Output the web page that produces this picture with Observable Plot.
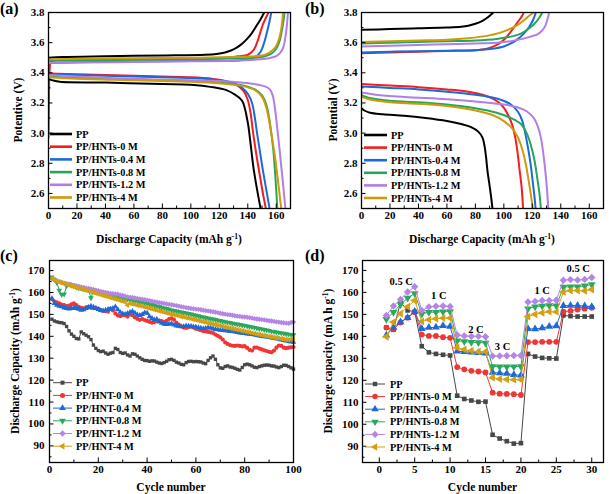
<!DOCTYPE html>
<html><head><meta charset="utf-8">
<script src="https://cdn.jsdelivr.net/npm/d3@7"></script>
<script src="https://cdn.jsdelivr.net/npm/@observablehq/plot@0.6"></script>
<style>
body{margin:0;background:#fff;}
#wrap{position:relative;width:610px;height:494px;overflow:hidden;}
#wrap svg{position:absolute;}
</style></head><body><div id="wrap"></div>
<script>
// ---------- series names & colours ----------
const namesAB = ["PP","PP/HNTs-0 M","PP/HNTs-0.4 M","PP/HNTs-0.8 M","PP/HNTs-1.2 M","PP/HNTs-4 M"];
const namesC = ["PP","PP/HNT-0 M","PP/HNT-0.4 M","PP/HNT-0.8 M","PP/HNT-1.2 M","PP/HNT-4 M"];
const colorsAB = ["#000000","#f51d1d","#1c6ad8","#26a65b","#b07ee6","#cf9a08"];
const colorsCD = ["#474747","#f03535","#1c6ad8","#2aa85c","#b585e6","#d4a010"];

// ---------- panel (a): [capacity, voltage] ----------
const aChargePP = [[0,3.50],[10,3.505],[40,3.51],[80,3.515],[110,3.52],[118,3.525],[124,3.535],[130,3.555],[135,3.585],[139,3.62],[143,3.665],[146,3.71],[149,3.755],[151.5,3.8]];
const aChargeHNT0 = [[0,2.97],[0.3,3.2],[0.8,3.42],[2,3.475],[20,3.485],[60,3.49],[100,3.495],[125,3.50],[133,3.51],[140,3.52],[144,3.55],[146.5,3.6],[148.5,3.66],[151,3.73],[153,3.77],[154.6,3.8]];
const aChargeHNT04 = [[0,3.465],[20,3.47],[60,3.475],[100,3.478],[130,3.48],[140,3.49],[146,3.51],[149,3.54],[151.5,3.6],[153.5,3.67],[155,3.73],[156.5,3.8]];
const aChargeHNT08 = [[0,3.48],[20,3.483],[60,3.487],[100,3.49],[130,3.495],[145,3.50],[152,3.51],[157,3.53],[160,3.56],[162.3,3.61],[163.9,3.68],[165,3.74],[165.8,3.8]];
const aChargeHNT12 = [[0,3.465],[20,3.468],[60,3.472],[100,3.476],[130,3.48],[145,3.487],[155,3.497],[160,3.51],[163,3.535],[165,3.57],[166.3,3.63],[167.3,3.7],[168.2,3.8]];
const aChargeHNT4 = [[0,3.49],[20,3.493],[60,3.497],[100,3.50],[130,3.505],[145,3.51],[152,3.52],[156,3.54],[159.5,3.57],[161.8,3.62],[163.3,3.68],[164.2,3.74],[164.7,3.8]];
const aDisPP = [[0,3.36],[3,3.35],[8,3.34],[40,3.335],[80,3.325],[100,3.32],[115,3.305],[125,3.285],[131,3.255],[136,3.215],[139.8,3.08],[141.7,2.95],[144,2.77],[147,2.6],[149,2.5]];
const aDisHNT0 = [[0,3.395],[20,3.39],[60,3.38],[100,3.37],[115,3.36],[125,3.345],[132,3.32],[137,3.28],[140,3.22],[142,3.13],[143.5,3.02],[145,2.92],[147,2.8],[149,2.69],[151,2.58],[152.7,2.5]];
const aDisHNT04 = [[0,3.39],[20,3.385],[60,3.375],[100,3.365],[120,3.35],[130,3.33],[136,3.30],[140,3.26],[143,3.2],[145,3.1],[146.5,3.0],[148.5,2.88],[150.5,2.76],[152.5,2.65],[154,2.57],[155.3,2.5]];
const aDisHNT08 = [[0,3.375],[20,3.365],[60,3.355],[100,3.345],[120,3.335],[135,3.32],[145,3.29],[150,3.25],[153,3.19],[155,3.1],[156.5,3.0],[158,2.88],[159,2.76],[160,2.62],[160.7,2.5]];
const aDisHNT12 = [[0,3.385],[20,3.375],[60,3.36],[100,3.35],[120,3.345],[135,3.335],[145,3.325],[152,3.31],[155.5,3.29],[157.5,3.25],[159,3.17],[160.5,3.05],[162,2.92],[163.5,2.78],[165,2.64],[166.4,2.5]];
const aDisHNT4 = [[0,3.37],[20,3.36],[60,3.35],[100,3.34],[120,3.33],[135,3.315],[145,3.285],[150,3.24],[153,3.17],[155,3.08],[157,2.97],[159,2.85],[160.5,2.74],[162,2.62],[163.5,2.5]];

// ---------- panel (b) ----------
const bChargePP = [[0,3.685],[20,3.69],[40,3.695],[60,3.70],[70,3.705],[75,3.712],[80,3.725],[85,3.745],[89,3.77],[92.5,3.8]];
const bChargeHNT0 = [[0,3.53],[20,3.535],[40,3.54],[60,3.545],[80,3.55],[88,3.56],[94,3.58],[99,3.61],[103,3.65],[107,3.70],[110,3.74],[113,3.78],[114,3.8]];
const bChargeHNT04 = [[0,3.535],[20,3.54],[40,3.543],[60,3.547],[80,3.55],[92,3.56],[100,3.575],[106,3.60],[110,3.625],[114,3.66],[117.5,3.70],[120.5,3.75],[122.5,3.8]];
const bChargeHNT08 = [[0,3.595],[20,3.60],[40,3.605],[60,3.61],[80,3.615],[95,3.625],[105,3.64],[112,3.66],[117,3.69],[121,3.72],[124.5,3.76],[127,3.8]];
const bChargeHNT12 = [[0,3.575],[20,3.58],[40,3.585],[60,3.59],[80,3.595],[95,3.60],[105,3.61],[113,3.625],[119,3.64],[124.5,3.66],[128.5,3.7],[130.5,3.75],[131.8,3.8]];
const bChargeHNT4 = [[0,3.605],[20,3.61],[40,3.615],[60,3.62],[75,3.63],[88,3.645],[97,3.665],[104,3.69],[110,3.72],[115,3.755],[118,3.78],[121,3.8]];
const bDisPP = [[0,3.165],[2,3.15],[6,3.135],[15,3.125],[30,3.115],[45,3.10],[60,3.08],[70,3.06],[77,3.04],[82,3.01],[85,2.97],[86.5,2.91],[87.5,2.84],[88.5,2.75],[90,2.65],[91,2.58],[92,2.5]];
const bDisHNT0 = [[0,3.325],[20,3.315],[40,3.305],[60,3.29],[75,3.275],[85,3.255],[93,3.225],[99,3.18],[103,3.12],[106,3.05],[108,2.97],[109.5,2.88],[111,2.76],[112.5,2.64],[113.5,2.5]];
const bDisHNT04 = [[0,3.31],[20,3.30],[40,3.29],[60,3.275],[80,3.255],[95,3.23],[105,3.19],[110,3.14],[113,3.08],[115,3.0],[117,2.9],[119,2.78],[120.5,2.66],[121.5,2.58],[122.3,2.5]];
const bDisHNT08 = [[0,3.252],[5,3.235],[20,3.215],[40,3.205],[60,3.19],[80,3.165],[95,3.135],[105,3.10],[112,3.06],[116,3.0],[119,2.92],[121.5,2.82],[123.5,2.7],[125,2.6],[126,2.5]];
const bDisHNT12 = [[0,3.27],[10,3.255],[30,3.24],[60,3.225],[80,3.21],[100,3.19],[110,3.17],[116,3.145],[121,3.10],[124,3.04],[126,2.97],[127.5,2.88],[129,2.76],[130.2,2.64],[131.2,2.5]];
const bDisHNT4 = [[0,3.24],[5,3.225],[20,3.205],[40,3.195],[60,3.18],[80,3.15],[92,3.12],[100,3.08],[106,3.03],[110,2.97],[113,2.89],[115.5,2.79],[117.5,2.68],[119,2.59],[120.3,2.5]];

// ---------- panel (c): capacity per cycle 1..100 ----------
const cPP = [147.8,147,146.6,146.3,146.2,145.8,144.5,142.5,141,140, 139,138.8,142,141.2,140.5,139.8,138.5,136,134.5,133.5,
 133,133.2,132.4,131.8,132.3,132.6,134.5,134,132.6,132.2, 132.4,131.5,131,132,131.8,131,130.2,129.5,129,128.9,
 128.6,128.8,128.7,128.2,127.8,127.6,128,128.6,129.3,129.5, 129,128.2,127.8,127.2,127,128,128.5,128.6,128.4,128.5,
 128.4,128.3,127.8,127.5,129,130.2,131,129.5,127,125.6, 125.4,126.2,126.5,126,125.8,125.4,124.9,124.6,125.8,127,
 127.3,127,126.5,125.9,125.7,126.2,126.5,126.8,126.9,126.8, 126.5,126.4,126,125.7,126.2,126.8,126.7,126.2,125.6,125];
const cHNT0 = [157,156,155.5,155,154.5,154.3,153.8,154,154.6,155, 154.2,153.5,153,152.7,153.2,153.5,153,152.8,153,152.5,
 152,151.6,151.5,151.2,152.6,151.8,150.4,149.5,149.2,149.7, 149.5,149,150,149.6,148.6,148,147.5,147.9,147.4,147,
 146.6,146.2,146.5,147,147.2,146.9,146.5,147,147.9,148.2, 147.6,146.2,145.3,144.5,144,143.8,144.2,144.4,144,143.5,
 143.2,142.8,142.4,142.2,142,141.8,141.5,140.8,140.2,139.5, 138.5,137.2,136.5,136,135.7,135.6,135.8,135.6,135.4,135.5,
 134.7,133.8,133.5,134.8,134.9,134.4,134,133.6,133.3,132.9, 132.7,133.5,134.8,135.8,135.6,134.8,134.6,134.8,135,135.1];
const cHNT04 = [157.2,155,154.2,153.8,153.5,153,152.8,152.5,152.8,153, 152.8,152.4,152,152.2,152.8,153.2,153.8,153.4,152.8,152.3,
 151.8,151.6,152,152.3,152.4,152.8,153.5,152.2,151,150.3, 150.1,150.5,151,151.4,150.6,149.8,149.6,150,150.8,150.6,
 149,148.2,147.6,147.8,146.6,146,145.6,145.4,145.6,145.8, 145.2,144.8,144.6,144.4,144.5,144.8,144.7,144.6,144.4,144.2,
 144,143.8,143.5,143.7,144,143.8,143.5,143.2,143,142.8, 142.7,142.6,142.5,142.3,142.2,142,141.8,141.6,141.5,141.3,
 141.1,141,140.9,140.6,140.4,140.2,140,139.9,139.7,139.5, 139.3,139.1,138.9,138.7,138.4,138.2,137.9,137.7,137.5,137.3];
const cHNT08 = [167,165.8,164.5,161,159,159.2,163,163.8,163.2,162.8, 162.4,162,161.8,161.6,161.4,161.2,157.5,160.6,160.4,160.2,
 159.9,159.7,159.3,159,158.7,158.4,158.2,157.9,157.7,157.4, 157.2,156.9,156.7,156.5,156.2,156,155.8,155.5,155.2,155,
 154.7,154.4,154.1,153.8,153.5,153.2,152.9,152.6,152.3,152, 151.7,151.5,151.3,151,150.8,150.6,150.3,150.1,149.8,149.5,
 149.3,149,148.8,148.5,148.3,148,147.8,147.6,147.3,147.1, 146.8,146.6,146.4,146.2,145.9,145.7,145.5,145.3,145.1,144.9,
 144.6,144.4,144.2,144,143.7,143.5,143.3,143,142.8,142.6, 142.3,142.1,141.9,141.7,141.5,141.3,141.1,140.9,140.8,140.6];
const cHNT12 = [166.2,165.8,165.3,164.9,164.6,164.3,164,163.8,163.5,163.3, 163.1,162.8,162.5,162.3,162,161.8,161.6,161.4,161.1,160.8,
 160.5,160.2,160,159.8,159.6,159.5,159.3,159.2,158.9,158.6, 158.3,158,157.8,157.7,157.5,157.3,157.1,156.9,156.7,156.5,
 156.3,156,155.8,155.6,155.4,155.2,155,154.8,154.6,154.4, 154.2,154,153.8,153.5,153.3,153.1,152.9,152.7,152.6,152.4,
 152.3,152.1,151.9,151.7,151.6,151.4,151.2,151,150.8,150.5, 150.3,150.1,149.9,149.8,149.6,149.4,149.2,149.1,148.9,148.8,
 148.7,148.5,148.3,148.1,147.9,147.8,147.6,147.5,147.3,147.1, 147,146.8,146.6,146.5,146.3,146.2,146,145.9,146.3,146.5];
const cHNT4 = [166.5,165.8,165.2,164.8,164.4,164,163.7,163.3,163,162.7, 162.3,162,161.7,161.3,161,160.7,160.3,160,159.6,159.3,
 159,158.6,158.3,158,157.6,157.3,157,156.7,156.3,156, 155.7,154.2,155,154.8,154.5,154.2,154,153.7,153.4,153.1,
 152.8,152.5,152.2,151.9,151.6,151.3,151,150.7,150.4,150.1, 149.8,149.6,149.3,149,148.8,148.5,148.3,148,147.7,147.5,
 147.2,146.9,146.7,146.4,146.1,145.9,145.6,145.3,145.1,144.8, 144.5,144.3,144,143.8,143.5,143.3,143,142.8,142.5,142.3,
 142,141.8,141.5,141.3,141,140.8,140.6,140.3,140.1,139.9, 139.7,139.5,139.3,139.1,138.9,138.7,138.5,138.4,138.6,138.9];

// ---------- panel (d): capacity per cycle 1..30 ----------
const dPP = [144,143,155.5,151.8,151.2,135.5,132.7,132,131.6,131.3,113,111.5,110.8,110.2,110.3,95.2,93.5,92.3,91.2,91.4,132,130.8,130.2,130,129.9,149.5,149.2,149,149,149];
const dHNT0 = [144,143.2,146.3,148.5,151,140.8,140.2,140.2,139.6,139.3,126,125,124.3,124,123.6,114.4,113.9,113.8,113.7,113.3,137.4,137.4,137.5,137.5,137.5,151.2,151.6,152.2,152.6,153];
const dHNT04 = [140.5,144,146.5,148.5,151.3,143.4,144,144.1,144.8,144.5,133.2,133,132.8,132.5,132.3,123.5,123.3,123.1,122.5,122.3,143.5,143.3,143.8,144.5,144.7,153.9,154,154,153.8,153.5];
const dHNT08 = [147.8,151,154.5,157.4,159.5,150.2,151,151,151.2,151.3,138,137.6,137.3,137.2,137,126.3,126.2,126.2,126.2,126.3,152.6,153.5,153.8,154,153.9,162.4,162.6,162.5,163,163.6];
const dHNT12 = [149.5,153.8,156.8,160.2,162.6,151.8,153.4,153.7,153.8,153.6,140.6,140.2,140,140,139.8,131,131.1,131.2,131.3,131.3,155.6,155.9,156.3,156.3,156.4,165.5,165.8,165.6,165.9,166.8];
const dHNT4 = [139.8,146.5,150.3,153.5,156.3,146.8,147.6,148,148.3,148.3,134.9,134,133.4,133,133,121.2,120.6,120.4,120.3,120.3,149,150,150.7,151.2,151.1,160.2,160.8,160.8,160.7,161.3];
const rateText = ["0.5 C","1 C","2 C","3 C","1 C","0.5 C"];
const rateCycle = [3.1,8.4,13.65,17.4,23,28.1];
const rateCap = [165,158.4,143.2,135.2,160.6,170.9];

// ---------- symbols ----------
function triPts(size){const a=Math.sqrt(4*size/Math.sqrt(3));const h=a*Math.sqrt(3)/2;return {a,h};}
const symTriDown = {draw(ctx,size){const {a,h}=triPts(size);ctx.moveTo(-a/2,-h/3);ctx.lineTo(a/2,-h/3);ctx.lineTo(0,2*h/3);ctx.closePath();}};
const symTriLeft = {draw(ctx,size){const {a,h}=triPts(size);ctx.moveTo(-2*h/3,0);ctx.lineTo(h/3,-a/2);ctx.lineTo(h/3,a/2);ctx.closePath();}};
const symTriUp = {draw(ctx,size){const {a,h}=triPts(size);ctx.moveTo(-a/2,h/3);ctx.lineTo(a/2,h/3);ctx.lineTo(0,-2*h/3);ctx.closePath();}};
const symSquare = {draw(ctx,size){const s=Math.sqrt(size)*0.9;ctx.rect(-s/2,-s/2,s,s);}};
const symCircle = {draw(ctx,size){const r=Math.sqrt(size/Math.PI);ctx.moveTo(r,0);ctx.arc(0,0,r,0,2*Math.PI);}};
const symDiamond = {draw(ctx,size){const s=Math.sqrt(size)*0.72;ctx.moveTo(0,-s);ctx.lineTo(s,0);ctx.lineTo(0,s);ctx.lineTo(-s,0);ctx.closePath();}};
const symbols = [symSquare,symCircle,symTriUp,symTriDown,symDiamond,symTriLeft];

const FONT = "'Liberation Serif','Times New Roman',serif";
const wrap = document.getElementById("wrap");

function range(a,b,s){const r=[];for(let v=a;v<=b+1e-9;v+=s)r.push(+v.toFixed(4));return r;}

function makePanel(cfg){
  const w=305,h=247,m=cfg.m;
  const iw=w-m.l-m.r, ih=h-m.t-m.b;
  const svg = Plot.plot({
    width:w,height:h,marginLeft:m.l,marginRight:m.r,marginTop:m.t,marginBottom:m.b,
    style:{fontFamily:FONT,fontSize:"11px",fontWeight:"bold",color:"#000",background:"transparent",overflow:"visible"},
    x:{domain:cfg.xDomain,label:null},
    y:{domain:cfg.yDomain,label:null},
    color:{type:"identity"},
    marks:[
      ...cfg.marks,
      Plot.tickX(cfg.xMajor,{x:d=>d,insetTop:ih-4.5,stroke:"#000",strokeWidth:1}),
      Plot.tickX(cfg.xMinor,{x:d=>d,insetTop:ih-2.5,stroke:"#000",strokeWidth:1}),
      Plot.tickY(cfg.yMajor,{y:d=>d,insetRight:iw-4.5,stroke:"#000",strokeWidth:1}),
      Plot.tickY(cfg.yMinor,{y:d=>d,insetRight:iw-2.5,stroke:"#000",strokeWidth:1}),
      Plot.axisX(cfg.xMajor,{tickSize:0,tickPadding:cfg.xPad,tickFormat:cfg.xFmt,label:null,fontSize:11,fontWeight:"bold"}),
      Plot.axisY(cfg.yMajor,{tickSize:0,tickPadding:cfg.yPad,tickFormat:cfg.yFmt,label:null,fontSize:11,fontWeight:"bold"}),
      Plot.frame({stroke:"#000",strokeWidth:1.3})
    ]
  });
  svg.style.left=cfg.left+"px"; svg.style.top=cfg.top+"px";
  wrap.appendChild(svg);
  const s=d3.select(svg);
  // panel letter
  s.append("text").attr("x",0).attr("y",cfg.letterY).attr("text-anchor","start").attr("font-family",FONT).attr("font-weight","bold").attr("font-size",16).text(cfg.letter);
  // x title
  const xt=s.append("text").attr("x",m.l+iw/2).attr("y",cfg.xTitleY).attr("text-anchor","middle").attr("font-family",FONT).attr("font-weight","bold").attr("font-size",11.5);
  addTitle(xt,cfg.xTitle);
  const yt=s.append("text").attr("transform",`translate(${cfg.yTitleX},${m.t+ih/2}) rotate(-90)`).attr("text-anchor","middle").attr("font-family",FONT).attr("font-weight","bold").attr("font-size",11.5);
  addTitle(yt,cfg.yTitle);
  // legend
  const lg=cfg.legend;
  lg.names.forEach((n,i)=>{
    const y=lg.y0+i*lg.dy;
    s.append("line").attr("x1",lg.x1).attr("x2",lg.x2).attr("y1",y).attr("y2",y).attr("stroke",lg.colors[i]).attr("stroke-width",lg.lw);
    if(lg.sym){
      s.append("path").attr("d",d3.symbol(symbols[i],lg.symSize)()).attr("transform",`translate(${(lg.x1+lg.x2)/2},${y})`).attr("fill",lg.colors[i]);
    }
    s.append("text").attr("x",lg.tx).attr("y",y+3.6).attr("text-anchor","start").attr("font-family",FONT).attr("font-weight","bold").attr("font-size",10.3).text(n);
  });
  return svg;
}
function addTitle(t,parts){
  t.append("tspan").text(parts[0]);
  if(parts[1]){
    t.append("tspan").attr("dy",-4.5).attr("font-size",7.5).text(parts[1]);
    t.append("tspan").attr("dy",4.5).text(parts[2]);
  }
}

function curveRows(charge,dis){
  const rows=[];
  charge.forEach((c,i)=>c.forEach(([x,y])=>rows.push({x,y,k:"c"+i,col:colorsAB[i]})));
  dis.forEach((c,i)=>c.forEach(([x,y])=>rows.push({x,y,k:"d"+i,col:colorsAB[i]})));
  return rows;
}
function curveMarks(rows){
  return [Plot.line(rows,{x:"x",y:"y",z:"k",stroke:"col",strokeWidth:2,curve:"catmull-rom",clip:true})];
}

const aRows = curveRows([aChargePP,aChargeHNT0,aChargeHNT04,aChargeHNT08,aChargeHNT12,aChargeHNT4],[aDisPP,aDisHNT0,aDisHNT04,aDisHNT08,aDisHNT12,aDisHNT4]);
const bRows = curveRows([bChargePP,bChargeHNT0,bChargeHNT04,bChargeHNT08,bChargeHNT12,bChargeHNT4],[bDisPP,bDisHNT0,bDisHNT04,bDisHNT08,bDisHNT12,bDisHNT4]);

const capTitle = ["Discharge Capacity (mAh g","-1",")"];
const f1 = d3.format(".1f");

makePanel({left:0,top:0,m:{l:48,r:15,t:12,b:39},xDomain:[0,170],yDomain:[2.5,3.8],
  xMajor:range(0,160,20),xMinor:range(10,170,20),yMajor:range(2.6,3.8,0.2),yMinor:range(2.5,3.7,0.2),
  xFmt:d=>d,yFmt:f1,xPad:3,yPad:4,marks:curveMarks(aRows),letter:"(a)",letterY:14,
  xTitle:capTitle,xTitleY:243,yTitle:["Potentive (V)"],yTitleX:22,
  legend:{names:namesAB,colors:colorsAB,y0:134,dy:12.7,x1:50,x2:72,tx:76,lw:2.6,sym:false}});

makePanel({left:305,top:0,m:{l:56,r:7,t:12,b:39},xDomain:[0,170],yDomain:[2.5,3.8],
  xMajor:range(0,160,20),xMinor:range(10,170,20),yMajor:range(2.6,3.8,0.2),yMinor:range(2.5,3.7,0.2),
  xFmt:d=>d,yFmt:f1,xPad:3,yPad:4,marks:curveMarks(bRows),letter:"(b)",letterY:14,
  xTitle:capTitle,xTitleY:243,yTitle:["Potential (V)"],yTitleX:32,
  legend:{names:namesAB,colors:colorsAB,y0:135,dy:12.6,x1:59,x2:82,tx:86,lw:2.6,sym:false}});

// panel c
const cSeries=[cPP,cHNT0,cHNT04,cHNT08,cHNT12,cHNT4];
const cMarks=[];
cSeries.forEach((vals,i)=>{
  const rows=vals.map((v,j)=>({cycle:j+1,cap:v}));
  cMarks.push(Plot.line(rows,{x:"cycle",y:"cap",stroke:colorsCD[i],strokeWidth:1}));
  cMarks.push(Plot.dot(rows,{x:"cycle",y:"cap",symbol:symbols[i],r:2.1,fill:colorsCD[i],stroke:"none"}));
});
makePanel({left:0,top:247,m:{l:49,r:12,t:13,b:32},xDomain:[0,100],yDomain:[82.4,174.6],
  xMajor:range(0,100,20),xMinor:range(10,90,20),yMajor:range(90,170,10),yMinor:range(85,170,10),
  xFmt:d=>d,yFmt:d=>d,xPad:3,yPad:5,marks:cMarks,letter:"(c)",letterY:14,
  xTitle:["Cycle number"],xTitleY:244,yTitle:capTitle,yTitleX:19,
  legend:{names:namesC,colors:colorsCD,y0:135.7,dy:12.7,x1:53,x2:72,tx:76,lw:1,sym:true,symSize:20}});

// panel d
const dSeries=[dPP,dHNT0,dHNT04,dHNT08,dHNT12,dHNT4];
const dMarks=[];
dSeries.forEach((vals,i)=>{
  const rows=vals.map((v,j)=>({cycle:j+1,cap:v}));
  dMarks.push(Plot.line(rows,{x:"cycle",y:"cap",stroke:colorsCD[i],strokeWidth:1}));
  dMarks.push(Plot.dot(rows,{x:"cycle",y:"cap",symbol:symbols[i],r:2.9,fill:colorsCD[i],stroke:"none"}));
});
const rateRows = rateText.map((t,i)=>({t,cycle:rateCycle[i],cap:rateCap[i]}));
dMarks.push(Plot.text(rateRows,{x:"cycle",y:"cap",text:"t",fontSize:10.5,fontWeight:"bold",fill:"#000"}));
makePanel({left:305,top:247,m:{l:57,r:7,t:13,b:32},xDomain:[-2.37,31.66],yDomain:[82.6,174.5],
  xMajor:range(0,30,5),xMinor:range(2.5,27.5,5),yMajor:range(90,170,10),yMinor:range(85,170,10),
  xFmt:d=>d,yFmt:d=>d,xPad:3,yPad:4,marks:dMarks,letter:"(d)",letterY:14,
  xTitle:["Cycle number"],xTitleY:244,yTitle:["Discharge capacity (mA h g","-1",")"],yTitleX:27,
  legend:{names:namesAB,colors:colorsCD,y0:137,dy:12.6,x1:60,x2:80,tx:85,lw:1,sym:true,symSize:24}});
</script>
</body></html>
